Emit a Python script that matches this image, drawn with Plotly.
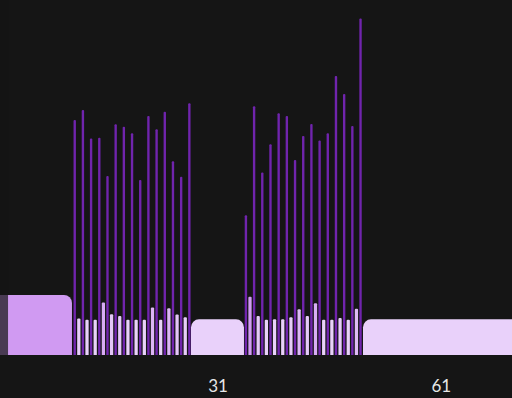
import plotly.graph_objects as go

# ---- data ----
# thin light bars (daily values)
light_x = [12.3, 13.4, 14.5, 15.6, 16.7, 17.8, 18.9, 20.0, 21.1, 22.2, 23.3, 24.4, 25.5, 26.6,
           35.3, 36.4, 37.5, 38.6, 39.7, 40.8, 41.9, 43.0, 44.1, 45.2, 46.3, 47.4, 48.5, 49.6]
light_y = [10.3, 9.9, 9.9, 14.8, 11.5, 11.0, 9.9, 9.9, 9.9, 13.4, 9.9, 13.2, 11.4, 10.6,
           16.4, 11.0, 9.9, 10.1, 10.1, 10.6, 12.9, 11.0, 14.6, 9.9, 9.9, 10.4, 9.9, 13.0]

# thin purple spikes
spike_x = [11.75, 12.85, 13.95, 15.05, 16.15, 17.25, 18.35, 19.45, 20.55, 21.65, 22.75, 23.85, 24.95, 26.05, 27.15,
           34.75, 35.85, 36.95, 38.05, 39.15, 40.25, 41.35, 42.45, 43.55, 44.65, 45.75, 46.85, 47.95, 49.05, 50.15]
spike_y = [66.2, 69.0, 61.0, 61.2, 50.4, 65.0, 64.3, 62.5, 49.3, 67.3, 63.6, 68.5, 54.6, 50.2, 70.9,
           39.4, 70.1, 51.4, 59.4, 68.1, 67.3, 54.9, 61.7, 65.1, 60.4, 62.5, 78.6, 73.5, 64.5, 94.8]

# wide periods
period_start = [-2.0, 27.37, 50.48]
period_end = [11.38, 34.49, 76.0]
period_y = [16.9, 10.06, 10.06]

# dimmed region end
dim_end = 2.79

tick_vals = [31, 61]
tick_text = ["31", "61"]

x_range = [1.71, 70.5]

# ---- figure ----
scale = [[0, "#ead4fa"], [1, "#cf98f2"]]
cmin, cmax = 9.7, 17.2

fig = go.Figure()

period_center = [(a + b) / 2 for a, b in zip(period_start, period_end)]
period_width = [b - a for a, b in zip(period_start, period_end)]

fig.add_trace(go.Bar(
    x=period_center, y=period_y, width=period_width,
    marker=dict(color=period_y, colorscale=scale, cmin=cmin, cmax=cmax, line=dict(width=0)),
    hoverinfo="skip",
))

fig.add_trace(go.Bar(
    x=spike_x, y=spike_y, width=0.32,
    marker=dict(color="#7024ad", line=dict(width=0)),
    hoverinfo="skip",
))

fig.add_trace(go.Bar(
    x=light_x, y=light_y, width=0.44,
    marker=dict(color=light_y, colorscale=scale, cmin=cmin, cmax=cmax, line=dict(width=0)),
    hoverinfo="skip",
))

fig.add_shape(type="rect", xref="x", yref="paper", x0=x_range[0] - 1, x1=dim_end, y0=0, y1=1,
              fillcolor="rgba(21,21,21,0.72)", line=dict(width=0), layer="above")

fig.update_layout(
    width=512, height=398,
    margin=dict(l=0, r=0, t=0, b=43),
    paper_bgcolor="#151515", plot_bgcolor="#151515",
    barmode="overlay", barcornerradius=8,
    showlegend=False,
    xaxis=dict(range=x_range, tickvals=tick_vals, ticktext=tick_text, showgrid=False,
               zeroline=False, showline=False, ticks="", ticklabelstandoff=19,
               tickfont=dict(family="Lato", size=17, color="#e6e6e6")),
    yaxis=dict(range=[0, 100], visible=False),
)

fig.write_html("out.html")
